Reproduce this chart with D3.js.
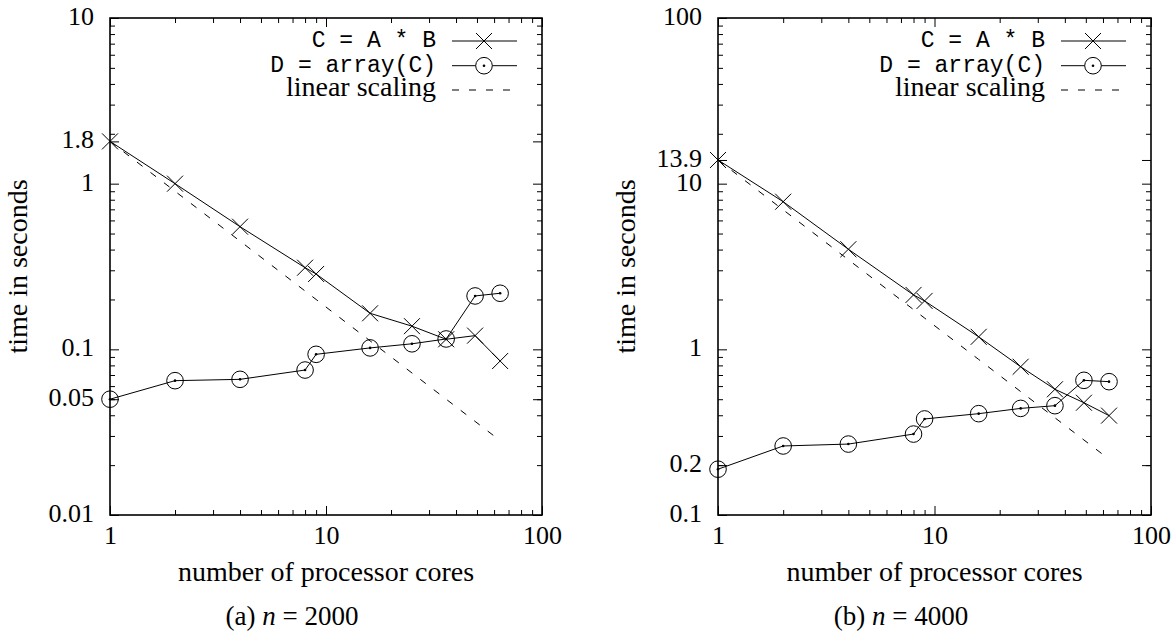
<!DOCTYPE html>
<html>
<head>
<meta charset="utf-8">
<script src="https://cdn.jsdelivr.net/npm/d3@7"></script>
<style>
  html, body { margin: 0; padding: 0; background: #fff; }
  svg { display: block; }
  .serif { font-family: "Liberation Serif", "Times New Roman", serif; fill: #000; }
  .mono { font-family: "Liberation Mono", "DejaVu Sans Mono", monospace; fill: #000; }
</style>
</head>
<body>
<svg id="chart" width="1176" height="634"></svg>
<script>
// ---------- data ----------
const cores = [1, 2, 4, 8, 9, 16, 25, 36, 49, 64];

// panel (a): n = 2000
const mulTimesA   = [1.8, 1.0, 0.55, 0.311, 0.285, 0.165, 0.138, 0.115, 0.121, 0.085];
const arrayTimesA = [0.05, 0.0647, 0.0659, 0.075, 0.0933, 0.102, 0.108, 0.1155, 0.21, 0.218];
const yTickLabelsA = [10, 1.8, 1, 0.1, 0.05, 0.01];
const yDomainA = [0.01, 10];

// panel (b): n = 4000
const mulTimesB   = [13.9, 7.78, 4.02, 2.13, 1.96, 1.19, 0.785, 0.574, 0.476, 0.398];
const arrayTimesB = [0.189, 0.261, 0.268, 0.308, 0.38, 0.409, 0.44, 0.457, 0.65, 0.638];
const yTickLabelsB = [100, 13.9, 10, 1, 0.2, 0.1];
const yDomainB = [0.1, 100];

const xTickLabels = [1, 10, 100];
const xDomain = [1, 100];
const legendLabels = ["C = A * B", "D = array(C)", "linear scaling"];
const xAxisTitle = "number of processor cores";
const yAxisTitle = "time in seconds";
const captionsPrefix = ["(a) ", "(b) "];
const captionsN = ["2000", "4000"];

// ---------- layout ----------
const SERIF = '"Liberation Serif", "Times New Roman", serif';
const svg = d3.select("#chart");
const panels = [
  { x0: 110, x1: 542, mul: mulTimesA, arr: arrayTimesA, yTicks: yTickLabelsA, yDom: yDomainA,
    capX: 292, capPre: captionsPrefix[0], capN: captionsN[0] },
  { x0: 718, x1: 1151, mul: mulTimesB, arr: arrayTimesB, yTicks: yTickLabelsB, yDom: yDomainB,
    capX: 901, capPre: captionsPrefix[1], capN: captionsN[1] }
];
const yTop = 18, yBot = 515;
const majorLen = 9, minorLen = 5;

function minorValues(dom) {
  const out = [];
  const lo = Math.round(Math.log10(dom[0])), hi = Math.round(Math.log10(dom[1]));
  for (let e = lo; e < hi; e++) {
    for (let m = 2; m <= 9; m++) out.push(m * Math.pow(10, e));
  }
  return out;
}
function fmt(v) { return String(v); }

panels.forEach(p => {
  const x = d3.scaleLog().domain(xDomain).range([p.x0, p.x1]);
  const y = d3.scaleLog().domain(p.yDom).range([yBot, yTop]);
  const g = svg.append("g");

  const xMinor = minorValues(xDomain);
  const yMinor = minorValues(p.yDom);

  function styleAxis(sel) {
    sel.attr("font-family", SERIF);
    sel.select(".domain").remove();
    sel.selectAll(".tick line").attr("stroke", "#000").attr("stroke-width", 1);
  }

  // bottom major with labels
  const gb = g.append("g").attr("transform", `translate(0,${yBot})`)
    .call(d3.axisBottom(x).tickValues(xTickLabels).tickFormat(fmt).tickSizeInner(-majorLen).tickSizeOuter(0));
  styleAxis(gb);
  gb.selectAll(".tick text").attr("y", 29).attr("dy", 0)
    .style("font-family", SERIF).style("font-size", "26px").attr("fill", "#000");
  const gbm = g.append("g").attr("transform", `translate(0,${yBot})`)
    .call(d3.axisBottom(x).tickValues(xMinor).tickFormat("").tickSizeInner(-minorLen).tickSizeOuter(0));
  styleAxis(gbm);
  const gt = g.append("g").attr("transform", `translate(0,${yTop})`)
    .call(d3.axisTop(x).tickValues(xTickLabels).tickFormat("").tickSizeInner(-majorLen).tickSizeOuter(0));
  styleAxis(gt);
  const gtm = g.append("g").attr("transform", `translate(0,${yTop})`)
    .call(d3.axisTop(x).tickValues(xMinor).tickFormat("").tickSizeInner(-minorLen).tickSizeOuter(0));
  styleAxis(gtm);

  // left major with labels
  const gl = g.append("g").attr("transform", `translate(${p.x0},0)`)
    .call(d3.axisLeft(y).tickValues(p.yTicks).tickFormat(fmt).tickSizeInner(-majorLen).tickSizeOuter(0));
  styleAxis(gl);
  gl.selectAll(".tick text").attr("x", -16).attr("dy", 6.5)
    .style("font-family", SERIF).style("font-size", "26px").attr("fill", "#000");
  const glm = g.append("g").attr("transform", `translate(${p.x0},0)`)
    .call(d3.axisLeft(y).tickValues(yMinor).tickFormat("").tickSizeInner(-minorLen).tickSizeOuter(0));
  styleAxis(glm);
  const gr = g.append("g").attr("transform", `translate(${p.x1},0)`)
    .call(d3.axisRight(y).tickValues(p.yTicks).tickFormat("").tickSizeInner(-majorLen).tickSizeOuter(0));
  styleAxis(gr);
  const grm = g.append("g").attr("transform", `translate(${p.x1},0)`)
    .call(d3.axisRight(y).tickValues(yMinor).tickFormat("").tickSizeInner(-minorLen).tickSizeOuter(0));
  styleAxis(grm);

  // border
  g.append("rect").attr("x", p.x0).attr("y", yTop)
    .attr("width", p.x1 - p.x0).attr("height", yBot - yTop)
    .attr("fill", "none").attr("stroke", "#000").attr("stroke-width", 1.6);

  // ---- series ----
  const line = d3.line().x(d => x(d[0])).y(d => y(d[1]));
  const mulPts = cores.map((c, i) => [c, p.mul[i]]);
  const arrPts = cores.map((c, i) => [c, p.arr[i]]);
  const linPts = cores.map(c => [c, p.mul[0] / c]);

  g.append("path").datum(linPts).attr("d", line)
    .attr("fill", "none").attr("stroke", "#000").attr("stroke-width", 1)
    .attr("stroke-dasharray", "7,10");
  g.append("path").datum(mulPts).attr("d", line)
    .attr("fill", "none").attr("stroke", "#000").attr("stroke-width", 1);
  g.append("path").datum(arrPts).attr("d", line)
    .attr("fill", "none").attr("stroke", "#000").attr("stroke-width", 1);

  const crossPath = "M-8,-8L8,8M-8,8L8,-8";
  g.selectAll(".cross").data(mulPts).join("path")
    .attr("transform", d => `translate(${x(d[0])},${y(d[1])})`)
    .attr("d", crossPath).attr("stroke", "#000").attr("stroke-width", 1).attr("fill", "none");
  const circ = g.selectAll(".circ").data(arrPts).join("g")
    .attr("transform", d => `translate(${x(d[0])},${y(d[1])})`);
  circ.append("circle").attr("r", 8.3).attr("fill", "none").attr("stroke", "#000").attr("stroke-width", 1);
  circ.append("circle").attr("r", 1.3).attr("fill", "#000");

  // ---- legend ----
  const textRight = p.x1 - 106;
  const lx0 = p.x1 - 90, lx1 = p.x1 - 25, mx = p.x1 - 58;
  const rows = [41, 65.7, 90];
  legendLabels.forEach((lab, i) => {
    const t = g.append("text").attr("x", textRight).attr("y", rows[i] + 6)
      .attr("text-anchor", "end").text(lab);
    if (i < 2) t.attr("class", "mono").style("font-size", "23px");
    else t.attr("class", "serif").style("font-size", "28px");
  });
  g.append("line").attr("x1", lx0).attr("x2", lx1).attr("y1", rows[0]).attr("y2", rows[0])
    .attr("stroke", "#000").attr("stroke-width", 1);
  g.append("path").attr("transform", `translate(${mx},${rows[0]})`).attr("d", crossPath)
    .attr("stroke", "#000").attr("stroke-width", 1).attr("fill", "none");
  g.append("line").attr("x1", lx0).attr("x2", mx - 8.3).attr("y1", rows[1]).attr("y2", rows[1])
    .attr("stroke", "#000").attr("stroke-width", 1);
  g.append("line").attr("x1", mx + 8.3).attr("x2", lx1).attr("y1", rows[1]).attr("y2", rows[1])
    .attr("stroke", "#000").attr("stroke-width", 1);
  g.append("circle").attr("cx", mx).attr("cy", rows[1]).attr("r", 8.3)
    .attr("fill", "none").attr("stroke", "#000").attr("stroke-width", 1);
  g.append("circle").attr("cx", mx).attr("cy", rows[1]).attr("r", 1.3).attr("fill", "#000");
  g.append("line").attr("x1", lx0).attr("x2", lx1).attr("y1", rows[2]).attr("y2", rows[2])
    .attr("stroke", "#000").attr("stroke-width", 1).attr("stroke-dasharray", "7,10");

  // ---- axis titles & caption ----
  g.append("text").attr("class", "serif").style("font-size", "28px")
    .attr("x", (p.x0 + p.x1) / 2).attr("y", 581).attr("text-anchor", "middle").text(xAxisTitle);
  g.append("text").attr("class", "serif").style("font-size", "28px")
    .attr("transform", `translate(${p.x0 - 83},${(yTop + yBot) / 2}) rotate(-90)`)
    .attr("text-anchor", "middle").text(yAxisTitle);
  const cap = g.append("text").attr("class", "serif").style("font-size", "27px")
    .attr("x", p.capX).attr("y", 625).attr("text-anchor", "middle");
  cap.append("tspan").text(p.capPre);
  cap.append("tspan").style("font-style", "italic").text("n");
  cap.append("tspan").text(" = " + p.capN);
});
</script>
</body>
</html>
